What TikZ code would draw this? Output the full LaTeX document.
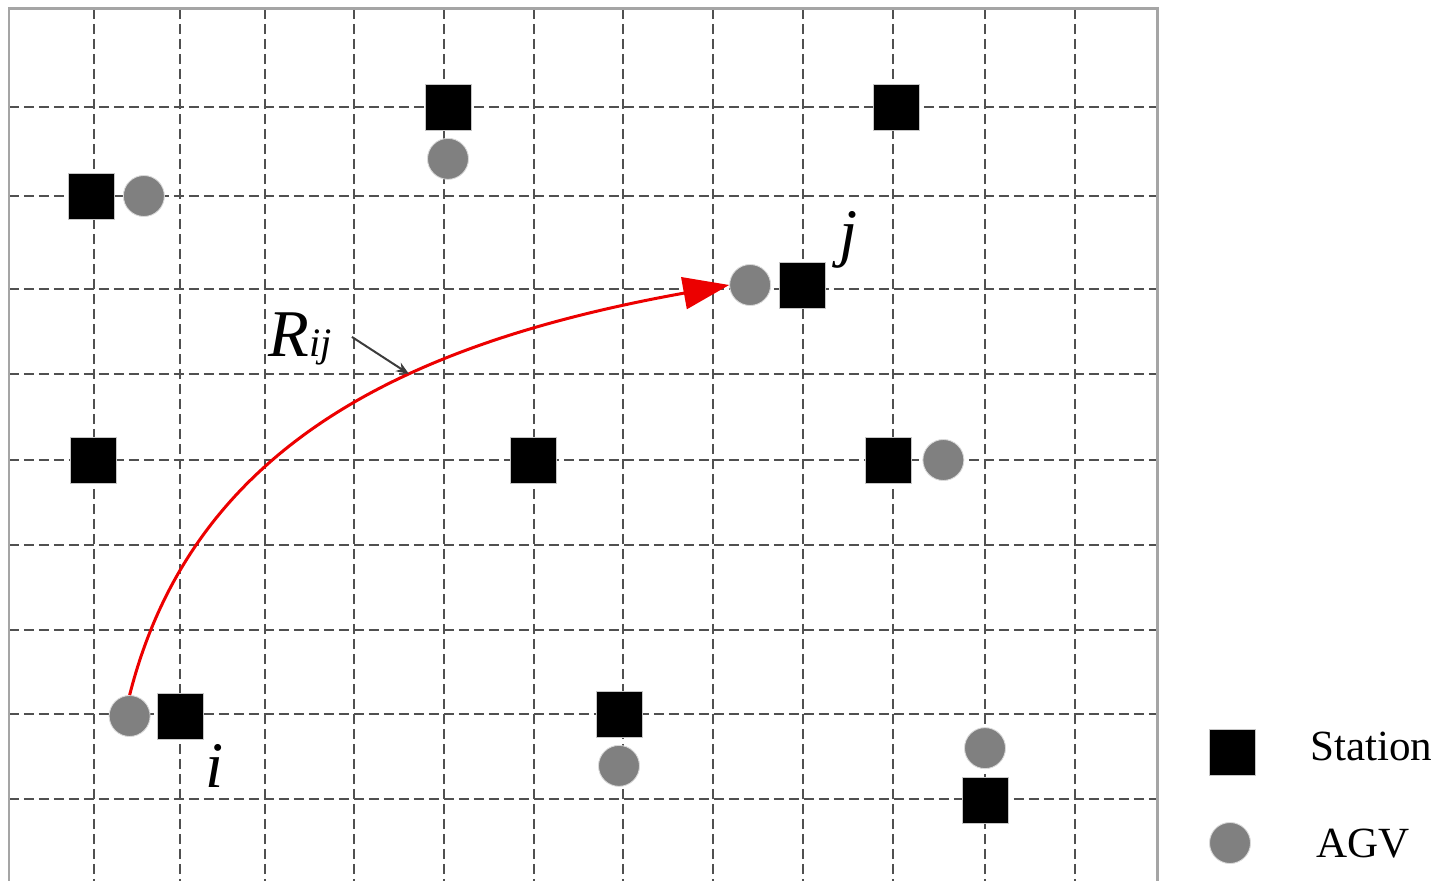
\documentclass[tikz,border=0pt]{standalone}
\usepackage{fontspec}
\setmainfont{Liberation Serif}
\usetikzlibrary{arrows.meta,positioning}
\definecolor{gridc}{RGB}{80,80,80}
\definecolor{framec}{RGB}{165,165,165}
\definecolor{agvc}{RGB}{128,128,128}
\definecolor{pathc}{RGB}{236,0,0}
\definecolor{ptrc}{RGB}{60,60,60}

\begin{document}
\begin{tikzpicture}[x=0.02cm, y=-0.02cm, node distance=0.15cm, >={Stealth[length=0.26cm,width=0.2cm]},
  station/.style={draw=gray!45, line width=0.5pt, fill=black, minimum size=0.92cm, inner sep=0pt},
  agv/.style={circle, draw=gray!30, line width=0.5pt, fill=agvc, minimum size=0.82cm, inner sep=0pt},
  gridline/.style={gridc, line width=0.035cm, dash pattern=on 0.2cm off 0.1cm},
  lbl/.style={font=\fontsize{37}{40}\selectfont\itshape, inner sep=0pt},
  legend/.style={font=\fontsize{24.5}{28}\selectfont, inner sep=0pt, anchor=base west}]
  \useasboundingbox (0,0) rectangle (1447,881);
  \foreach \x in {94,180,265,354,444,534,623,713,803,893,985,1075}
    \draw[gridline] (\x,9) -- (\x,881);
  \foreach \y in {107,196,289,374,460,545,630,714,799}
    \draw[gridline] (9,\y) -- (1157,\y);
  \draw[framec, line width=0.06cm] (9,881) -- (9,9) -- (1157,9) -- (1157,881);

  \node[station] (s1) at (91,196) {};
  \node[agv, right=0.17cm of s1] (a1) {};
  \node[station] (s2) at (448,107) {};
  \node[agv, below=of s2] (a2) {};
  \node[station] (s3) at (896,107) {};
  \node[station] (s4) at (93,460) {};
  \node[station] (s5) at (533,460) {};
  \node[station] (s6) at (888,460) {};
  \node[agv, right=0.22cm of s6] (a6) {};
  \node[station] (sj) at (802,285) {};
  \node[agv, left=of sj] (aj) {};
  \node[station] (si) at (180,716) {};
  \node[agv, left=0.12cm of si] (ai) {};
  \node[station] (s7) at (619,714) {};
  \node[agv, below=of s7] (a7) {};
  \node[station] (s8) at (985,800) {};
  \node[agv, above=of s8] (a8) {};

  \node[lbl, anchor=base] (li) at (215,787) {i};
  \node[lbl, anchor=base] (lj) at (849,255) {j};
  \node[anchor=base west, inner sep=0pt] (rij) at (268,357)
    {{\fontsize{38}{40}\selectfont\itshape R}{\fontsize{23}{26}\selectfont\itshape ij}};
  \coordinate (rtip) at (409,374);

  \draw[pathc, line width=0.06cm, -{Triangle[length=0.92cm,width=0.64cm]}]
    (ai.north) .. controls (193,445) and (407,343) .. (aj.west);
  \draw[->, ptrc, line width=0.04cm] ([xshift=0.4cm,yshift=0.05cm]rij.east) -- (rtip);

  \node[station] (ls) at (1232,752) {};
  \node[agv] (la) at (1230,843) {};
  \node[legend] (lst) at (1310,760) {Station};
  \node[legend] (lag) at (1316,857) {AGV};
\end{tikzpicture}
\end{document}
